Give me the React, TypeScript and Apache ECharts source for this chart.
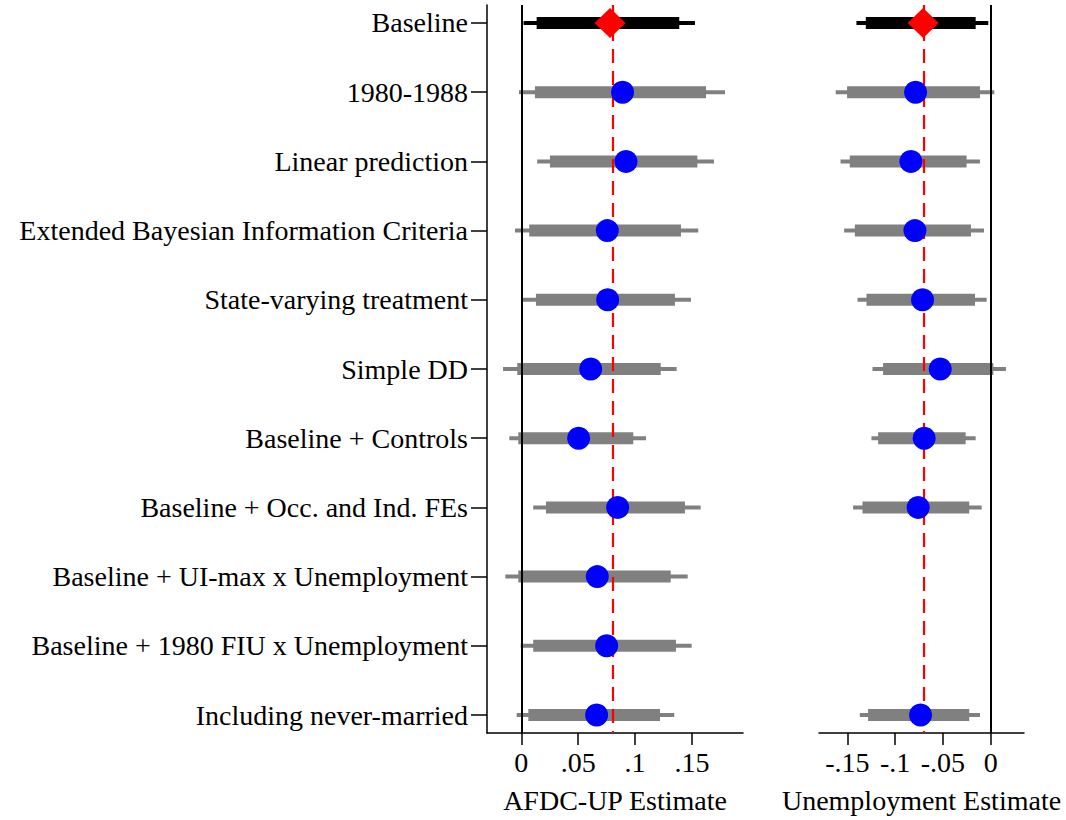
import React, { useEffect, useRef } from "react";
import * as echarts from "echarts";

const labels = [
  "Baseline",
  "1980-1988",
  "Linear prediction",
  "Extended Bayesian Information Criteria",
  "State-varying treatment",
  "Simple DD",
  "Baseline + Controls",
  "Baseline + Occ. and Ind. FEs",
  "Baseline + UI-max x Unemployment",
  "Baseline + 1980 FIU x Unemployment",
  "Including never-married",
];

const afdcPoint = [0.078, 0.089, 0.092, 0.0756, 0.0759, 0.061, 0.0504, 0.0847, 0.0668, 0.075, 0.0662];
const afdcThinLo = [0.002, -0.002, 0.014, -0.0055, 0.001, -0.016, -0.0105, 0.0105, -0.014, -0.0005, -0.004];
const afdcThinHi = [0.1526, 0.179, 0.1693, 0.1555, 0.1491, 0.1365, 0.1096, 0.1576, 0.1462, 0.1497, 0.1344];
const afdcThickLo = [0.0135, 0.012, 0.0252, 0.007, 0.0129, -0.0035, -0.0026, 0.0217, -0.0026, 0.0105, 0.0062];
const afdcThickHi = [0.1388, 0.1623, 0.1547, 0.1403, 0.135, 0.1225, 0.0984, 0.1438, 0.1313, 0.1359, 0.1219];

const unempPoint = [-0.0707, -0.0786, -0.0835, -0.0793, -0.0713, -0.0528, -0.0696, -0.0759, null, null, -0.0734];
const unempThinLo = [-0.1405, -0.1622, -0.1572, -0.1534, -0.1394, -0.1237, -0.1248, -0.144, null, null, -0.137];
const unempThinHi = [-0.0025, 0.0038, -0.0112, -0.007, -0.0042, 0.016, -0.0157, -0.0094, null, null, -0.0112];
const unempThickLo = [-0.1307, -0.1503, -0.1475, -0.1422, -0.13, -0.1126, -0.1178, -0.1342, null, null, -0.1283];
const unempThickHi = [-0.0157, -0.0112, -0.0252, -0.0206, -0.0164, 0.0028, -0.0262, -0.0224, null, null, -0.0224];

const afdcRef = 0.078;
const unempRef = -0.0707;

const afdcTicks = [0, 0.05, 0.1, 0.15];
const afdcTickLabels = ["0", ".05", ".1", ".15"];
const unempTicks = [-0.15, -0.1, -0.05, 0];
const unempTickLabels = ["-.15", "-.1", "-.05", "0"];

const FONT = "Liberation Serif";
const FS = 28;

function rangeData(lo: (number | null)[], hi: (number | null)[]) {
  const out: number[][] = [];
  lo.forEach((v, i) => {
    if (v !== null && hi[i] !== null) out.push([i, v as number, hi[i] as number]);
  });
  return out;
}

function pointData(p: (number | null)[], baseline: boolean) {
  const out: number[][] = [];
  p.forEach((v, i) => {
    if (v === null) return;
    if (baseline ? i === 0 : i !== 0) out.push([v, i]);
  });
  return out;
}

function rangeSeries(xi: number, data: number[][], width: number, extra: any = {}) {
  return {
    type: "custom",
    xAxisIndex: xi,
    yAxisIndex: xi,
    data,
    encode: { x: [1, 2], y: 0 },
    renderItem: (params: any, api: any) => {
      const row = api.value(0);
      const p1 = api.coord([api.value(1), row]);
      const p2 = api.coord([api.value(2), row]);
      return {
        type: "line",
        shape: { x1: p1[0], y1: p1[1], x2: p2[0], y2: p2[1] },
        style: { stroke: row === 0 ? "#000000" : "#808080", lineWidth: width, lineCap: "butt" },
      };
    },
    z: 3,
    ...extra,
  };
}

function refLines(ref: number) {
  return {
    silent: true,
    symbol: "none",
    label: { show: false },
    data: [
      { xAxis: 0, lineStyle: { color: "#000000", width: 2, type: "solid" } },
      { xAxis: ref, lineStyle: { color: "#ff0000", width: 2.2, type: [14, 8] } },
    ],
  };
}

export default function App() {
  const ref = useRef<HTMLDivElement>(null);
  useEffect(() => {
    if (!ref.current) return;
    const chart = echarts.init(ref.current, null, { renderer: "svg" });
    const yMin = -0.26;
    const yMax = 10.26;
    const rows = labels.map((_, i) => i);
    const axisText = { fontFamily: FONT, fontSize: FS, color: "#000000" };
    const option: any = {
      animation: false,
      backgroundColor: "#ffffff",
      grid: [
        { left: 487, width: 256, top: 5, bottom: 87, containLabel: false },
        { left: 819, width: 205, top: 5, bottom: 87, containLabel: false },
      ],
      xAxis: [
        {
          gridIndex: 0,
          type: "value",
          min: -0.0301,
          max: 0.1948,
          splitLine: { show: false },
          axisLine: { show: true, onZero: false, lineStyle: { color: "#000", width: 1.5 } },
          axisTick: { show: true, length: 12, customValues: afdcTicks, lineStyle: { color: "#000", width: 1.5 } },
          axisLabel: {
            ...axisText,
            margin: 15,
            customValues: afdcTicks,
            formatter: (v: number) => {
              const k = afdcTicks.findIndex((t) => Math.abs(t - v) < 1e-9);
              return k >= 0 ? afdcTickLabels[k] : "";
            },
          },
          name: "AFDC-UP Estimate",
          nameLocation: "middle",
          nameGap: 53,
          nameTextStyle: axisText,
        },
        {
          gridIndex: 1,
          type: "value",
          min: -0.1797,
          max: 0.0349,
          splitLine: { show: false },
          axisLine: { show: true, onZero: false, lineStyle: { color: "#000", width: 1.5 } },
          axisTick: { show: true, length: 12, customValues: unempTicks, lineStyle: { color: "#000", width: 1.5 } },
          axisLabel: {
            ...axisText,
            margin: 15,
            customValues: unempTicks,
            formatter: (v: number) => {
              const k = unempTicks.findIndex((t) => Math.abs(t - v) < 1e-9);
              return k >= 0 ? unempTickLabels[k] : "";
            },
          },
          name: "Unemployment Estimate",
          nameLocation: "middle",
          nameGap: 53,
          nameTextStyle: axisText,
        },
      ],
      yAxis: [
        {
          gridIndex: 0,
          type: "value",
          inverse: true,
          min: yMin,
          max: yMax,
          splitLine: { show: false },
          axisLine: { show: true, onZero: false, lineStyle: { color: "#000", width: 1.5 } },
          axisTick: { show: true, length: 16, customValues: rows, lineStyle: { color: "#000", width: 1.5 } },
          axisLabel: {
            ...axisText,
            margin: 19,
            customValues: rows,
            formatter: (v: number) => labels[Math.round(v)] ?? "",
          },
        },
        {
          gridIndex: 1,
          type: "value",
          inverse: true,
          min: yMin,
          max: yMax,
          splitLine: { show: false },
          axisLine: { show: false },
          axisTick: { show: false },
          axisLabel: { show: false },
        },
      ],
      series: [
        rangeSeries(0, rangeData(afdcThinLo, afdcThinHi), 4, { markLine: refLines(afdcRef) }),
        rangeSeries(0, rangeData(afdcThickLo, afdcThickHi), 12),
        rangeSeries(1, rangeData(unempThinLo, unempThinHi), 4, { markLine: refLines(unempRef) }),
        rangeSeries(1, rangeData(unempThickLo, unempThickHi), 12),
        {
          type: "scatter",
          xAxisIndex: 0,
          yAxisIndex: 0,
          data: pointData(afdcPoint, false),
          symbol: "circle",
          symbolSize: 23,
          itemStyle: { color: "#0000ff", opacity: 1 },
          z: 5,
        },
        {
          type: "scatter",
          xAxisIndex: 0,
          yAxisIndex: 0,
          data: pointData(afdcPoint, true),
          symbol: "diamond",
          symbolSize: [31, 30],
          itemStyle: { color: "#ff0000", opacity: 1 },
          z: 5,
        },
        {
          type: "scatter",
          xAxisIndex: 1,
          yAxisIndex: 1,
          data: pointData(unempPoint, false),
          symbol: "circle",
          symbolSize: 23,
          itemStyle: { color: "#0000ff", opacity: 1 },
          z: 5,
        },
        {
          type: "scatter",
          xAxisIndex: 1,
          yAxisIndex: 1,
          data: pointData(unempPoint, true),
          symbol: "diamond",
          symbolSize: [31, 30],
          itemStyle: { color: "#ff0000", opacity: 1 },
          z: 5,
        },
      ],
    };
    chart.setOption(option);
    return () => chart.dispose();
  }, []);
  return (
    <div
      ref={ref}
      style={{ position: "absolute", left: 0, top: 0, width: 1066, height: 820, background: "#fff" }}
    />
  );
}
